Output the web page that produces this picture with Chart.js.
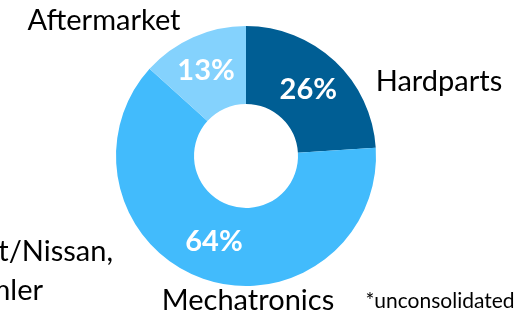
<!DOCTYPE html>
<html>
<head>
<meta charset="utf-8">
<script src="https://cdn.jsdelivr.net/npm/chart.js@4/dist/chart.umd.min.js"></script>
<style>
html,body{margin:0;padding:0;background:#fff;}
#wrap{width:528px;height:315px;position:relative;}
</style>
</head>
<body>
<div id="wrap"><canvas id="c" width="528" height="315"></canvas></div>
<script>
const categories = ["Hardparts", "Mechatronics", "Aftermarket"];
const shares = [24.0, 62.7, 13.3];
const percentLabels = ["26%", "64%", "13%"];
const sliceColors = ["#005E94", "#42BBFC", "#84D2FD"];
const customerLines = ["Renault/Nissan,", "Daimler"];
const footnote = "*unconsolidated";

const FONT = "Lato, 'Open Sans', sans-serif";

const labelPlugin = {
  id: 'labels',
  afterDraw(chart) {
    const ctx = chart.ctx;
    const meta = chart.getDatasetMeta(0);
    ctx.save();
    // percentages on slices
    ctx.fillStyle = '#ffffff';
    ctx.font = "bold 29px " + FONT;
    ctx.textAlign = 'center';
    ctx.textBaseline = 'middle';
    const tweaks = [[0, 0], [-2, 0], [-3, -2]];
    meta.data.forEach((arc, i) => {
      const p = arc.getCenterPoint();
      ctx.fillText(percentLabels[i], p.x + tweaks[i][0], p.y + tweaks[i][1]);
    });
    // category labels
    ctx.fillStyle = '#000000';
    ctx.font = "29px " + FONT;
    ctx.textBaseline = 'alphabetic';
    ctx.textAlign = 'center';
    ctx.fillText(categories[0], 439, 91);
    ctx.fillText(categories[1], 248, 310);
    ctx.fillText(categories[2], 104, 30);
    // customers (cut off at the left edge)
    ctx.textAlign = 'right';
    ctx.fillText(customerLines[0], 113, 261);
    ctx.fillText(customerLines[1], 43, 300);
    // footnote
    ctx.font = "21px " + FONT;
    ctx.textAlign = 'center';
    ctx.fillText(footnote, 440, 308);
    ctx.restore();
  }
};

new Chart(document.getElementById('c'), {
  type: 'doughnut',
  data: {
    labels: categories,
    datasets: [{
      data: shares,
      backgroundColor: sliceColors,
      borderWidth: 0,
      hoverOffset: 0
    }]
  },
  options: {
    responsive: false,
    animation: false,
    cutout: '40%',
    layout: { padding: { left: 116, right: 152, top: 26, bottom: 29 } },
    plugins: {
      legend: { display: false },
      tooltip: { enabled: false }
    }
  },
  plugins: [labelPlugin]
});
</script>
</body>
</html>
